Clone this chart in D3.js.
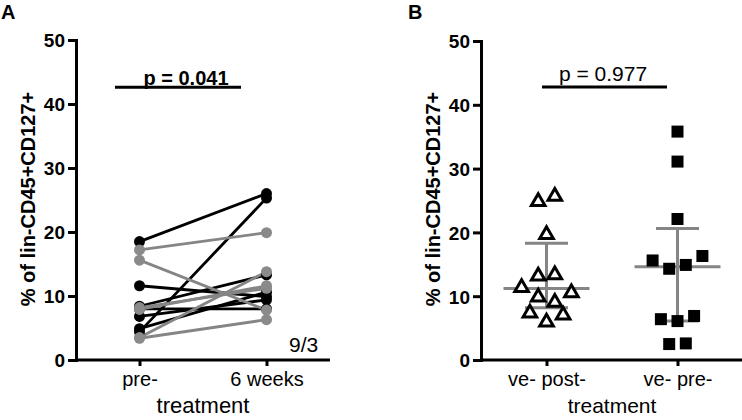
<!DOCTYPE html>
<html><head><meta charset="utf-8">
<script src="https://cdn.jsdelivr.net/npm/d3@7"></script>
<style>body{margin:0;background:#fff}svg{display:block}text{font-family:"Liberation Sans",Arial,sans-serif}</style>
</head><body>
<svg id="c" width="742" height="420"></svg>
<script>
// ---- data ----
const categoriesA = ["pre-", "6 weeks"];
const preA   = [18.5, 4.4, 11.6, 8.4, 8.0, 6.8, 4.9, 17.2, 15.6, 8.2, 3.5, 3.4, 7.9];
const weekA  = [26.0, 25.3, 9.9, 13.3, 8.0, 9.4, 10.6, 19.9, 7.8, 11.2, 13.8, 6.3, 11.6];
const groupA = ["black","black","black","black","black","black","black","gray","gray","gray","gray","gray","gray"];
const pA = "p = 0.041", pAValue = 42.6;
const noteA = "9/3";

const categoriesB = ["ve- post-", "ve- pre-"];
const postB = [25.0, 25.8, 19.8, 13.3, 13.5, 11.5, 10.7, 10.0, 9.2, 7.5, 7.2, 6.1];
const postSlot = [-1, 1, 0, -1, 1, -3, 3, -1, 1, -2, 2, 0];
const preB  = [35.8, 31.1, 22.1, 15.6, 16.3, 14.3, 14.9, 6.4, 6.1, 6.9, 2.5, 2.6];
const preSlot = [0, 0, 0, -3, 3, -1, 1, -2, 0, 2, -1, 1];
const statsB = [ {median: 11.2, low: 8.2, high: 18.3}, {median: 14.6, low: 6.1, high: 20.6} ];
const pB = "p = 0.977", pBValue = 42.8;

const yTicks = [0, 10, 20, 30, 40, 50];
const yTitle = "% of lin-CD45+CD127+";
const xTitle = "treatment";

// ---- drawing ----
const svg = d3.select("#c");
const F = '"Liberation Sans",Arial,sans-serif';

function panel(cfg) {
  const g = svg.append("g");
  const y = d3.scaleLinear().domain([0, 50]).range([360, cfg.top]);
  const x = d3.scalePoint().domain(cfg.cats).range([cfg.left, cfg.right]).padding(0.5);
  const ya = g.append("g").attr("transform", `translate(${cfg.left},0)`)
    .call(d3.axisLeft(y).tickValues(yTicks).tickSize(8).tickPadding(3));
  ya.select(".domain").attr("stroke", "#000").attr("stroke-width", 3);
  ya.selectAll(".tick line").attr("stroke", "#000").attr("stroke-width", 3);
  ya.selectAll(".tick text").attr("font-size", 19).attr("font-weight", "bold").attr("fill", "#000").attr("dy", "0.36em").style("font-family", F);
  const xa = g.append("g").attr("transform", `translate(0,360)`)
    .call(d3.axisBottom(x).tickSize(6).tickPadding(6));
  xa.select(".domain").attr("stroke", "#000").attr("stroke-width", 3).attr("d", `M${cfg.left},0H${cfg.right}`);
  xa.selectAll(".tick line").attr("stroke", "#000").attr("stroke-width", 3);
  xa.selectAll(".tick text").attr("font-size", 20).attr("fill", "#000").style("font-family", F);
  g.append("text").attr("transform", `translate(${cfg.left - 41},${cfg.titleY}) rotate(-90)`)
    .attr("text-anchor", "middle").attr("font-size", 20).attr("font-weight", "bold").text(yTitle);
  g.append("text").attr("x", (x(cfg.cats[0]) + x(cfg.cats[1])) / 2).attr("y", cfg.xtY)
    .attr("text-anchor", "middle").attr("font-size", cfg.xtSize).text(xTitle);
  g.append("text").attr("x", cfg.labelX).attr("y", 19).attr("font-size", 20).attr("font-weight", "bold").text(cfg.label);
  return {g, x, y};
}

// Panel A
const A = panel({cats: categoriesA, left: 76, right: 330, top: 40, titleY: 199, xtY: 413, xtSize: 22, label: "A", labelX: 1});
const colA = {black: "#000", gray: "#858585"};
const pairs = preA.map((v, i) => ({pre: v, wk: weekA[i], g: groupA[i]}));
const order = pairs.map((d, i) => i).sort((a, b) => (groupA[a] === "gray") - (groupA[b] === "gray"));
A.g.append("g").selectAll("line").data(order.map(i => pairs[i])).join("line")
  .attr("x1", A.x(categoriesA[0])).attr("x2", A.x(categoriesA[1]))
  .attr("y1", d => A.y(d.pre)).attr("y2", d => A.y(d.wk))
  .attr("stroke", d => colA[d.g]).attr("stroke-width", 2.8);
const dotsA = [];
order.forEach(i => { dotsA.push({c: categoriesA[0], v: preA[i], g: groupA[i]}); dotsA.push({c: categoriesA[1], v: weekA[i], g: groupA[i]}); });
A.g.append("g").selectAll("circle").data(dotsA).join("circle")
  .attr("cx", d => A.x(d.c)).attr("cy", d => A.y(d.v)).attr("r", 5.5)
  .attr("fill", d => d.g === "gray" ? "#8a8a8a" : "#000");
A.g.append("line").attr("x1", 115).attr("x2", 241).attr("y1", A.y(pAValue)).attr("y2", A.y(pAValue)).attr("stroke", "#000").attr("stroke-width", 3);
A.g.append("text").attr("x", 186).attr("y", A.y(pAValue) - 2).attr("text-anchor", "middle").attr("font-size", 20).attr("font-weight", "bold").text(pA);
A.g.append("text").attr("x", 289).attr("y", 352).attr("font-size", 21).text(noteA);

// Panel B
const B = panel({cats: categoriesB, left: 481, right: 743, top: 41, titleY: 199, xtY: 413, xtSize: 21, label: "B", labelX: 408});
const slotW = 8.3;
statsB.forEach((s, i) => {
  const cx = B.x(categoriesB[i]);
  const eg = B.g.append("g").attr("stroke", "#858585").attr("stroke-width", 3);
  eg.append("line").attr("x1", cx).attr("x2", cx).attr("y1", B.y(s.low)).attr("y2", B.y(s.high));
  eg.append("line").attr("x1", cx - 43).attr("x2", cx + 43).attr("y1", B.y(s.median)).attr("y2", B.y(s.median));
  eg.append("line").attr("x1", cx - 21.5).attr("x2", cx + 21.5).attr("y1", B.y(s.low)).attr("y2", B.y(s.low));
  eg.append("line").attr("x1", cx - 21.5).attr("x2", cx + 21.5).attr("y1", B.y(s.high)).attr("y2", B.y(s.high));
});
const tri = d3.symbol().type(d3.symbolTriangle).size(80);
B.g.append("g").selectAll("path").data(postB).join("path")
  .attr("d", tri)
  .attr("transform", (d, i) => `translate(${B.x(categoriesB[0]) + postSlot[i] * slotW},${B.y(d) + 1})`)
  .attr("fill", "#fff").attr("stroke", "#000").attr("stroke-width", 3).attr("stroke-linejoin", "miter");
B.g.append("g").selectAll("rect").data(preB).join("rect")
  .attr("x", (d, i) => B.x(categoriesB[1]) + preSlot[i] * slotW - 6)
  .attr("y", d => B.y(d) - 6).attr("width", 12).attr("height", 12).attr("fill", "#000");
B.g.append("line").attr("x1", 542).attr("x2", 667).attr("y1", B.y(pBValue)).attr("y2", B.y(pBValue)).attr("stroke", "#000").attr("stroke-width", 3);
B.g.append("text").attr("x", 603).attr("y", B.y(pBValue) - 6).attr("text-anchor", "middle").attr("font-size", 21).text(pB);
</script>
</body></html>
